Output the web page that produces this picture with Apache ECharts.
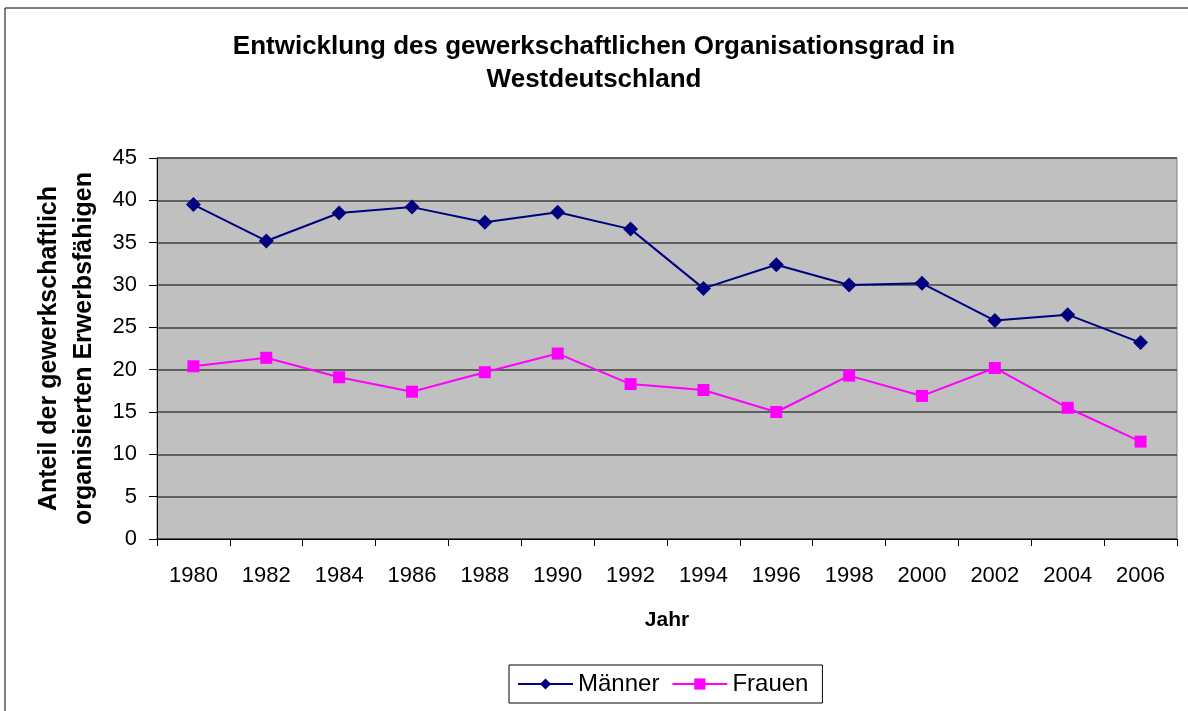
<!DOCTYPE html>
<html>
<head>
<meta charset="utf-8">
<script src="https://cdn.jsdelivr.net/npm/echarts@6/dist/echarts.min.js"></script>
<style>
  html, body { margin: 0; padding: 0; background: #fff; }
  #chart { width: 1188px; height: 711px; }
</style>
</head>
<body>
<div id="chart"></div>
<script>
var chart = echarts.init(document.getElementById("chart"));

// Daten
var jahre = ["1980", "1982", "1984", "1986", "1988", "1990", "1992", "1994", "1996", "1998", "2000", "2002", "2004", "2006"];
var maenner = [39.5, 35.2, 38.5, 39.2, 37.4, 38.6, 36.6, 29.6, 32.4, 30.0, 30.2, 25.8, 26.5, 23.2];
var frauen = [20.4, 21.4, 19.1, 17.4, 19.7, 21.9, 18.3, 17.6, 15.0, 19.3, 16.9, 20.2, 15.5, 11.5];

var font = "Liberation Sans, Arial, sans-serif";

var option = {
    backgroundColor: "#fff",
    textStyle: { fontFamily: font },
    graphic: [
        {
            type: "rect",
            shape: { x: 5, y: 8, width: 1200, height: 720 },
            style: { fill: "none", stroke: "#000", lineWidth: 1 },
            silent: true
        }
    ],
    title: {
        text: "Entwicklung des gewerkschaftlichen Organisationsgrad in\nWestdeutschland",
        left: "center",
        top: 25,
        textStyle: {
            fontFamily: font,
            fontSize: 26,
            fontWeight: "bold",
            color: "#000",
            lineHeight: 33
        }
    },
    legend: {
        data: ["Männer", "Frauen"],
        left: 509,
        top: 665,
        itemWidth: 55,
        itemHeight: 14,
        itemGap: 12,
        padding: [7, 14, 7, 8],
        borderColor: "#000",
        borderWidth: 1,
        textStyle: { fontFamily: font, fontSize: 24, color: "#000" }
    },
    grid: {
        left: 157,
        top: 158,
        right: 11,
        bottom: 172,
        show: true,
        backgroundColor: "#c0c0c0",
        borderColor: "#808080",
        borderWidth: 1
    },
    xAxis: {
        type: "category",
        data: jahre,
        name: "Jahr",
        nameLocation: "middle",
        nameGap: 71,
        nameTextStyle: { fontFamily: font, fontSize: 21, fontWeight: "bold", color: "#000" },
        axisLine: { lineStyle: { color: "#000", width: 1 } },
        axisTick: { show: true, length: 7, lineStyle: { color: "#000" } },
        axisLabel: { color: "#000", fontSize: 22, margin: 26, interval: 0 }
    },
    yAxis: {
        type: "value",
        min: 0,
        max: 45,
        interval: 5,
        name: "Anteil der gewerkschaftlich\norganisierten Erwerbsfähigen",
        nameLocation: "middle",
        nameGap: 55,
        nameTextStyle: { fontFamily: font, fontSize: 25, fontWeight: "bold", color: "#000", lineHeight: 35 },
        axisLine: { show: true, lineStyle: { color: "#000", width: 1 } },
        axisTick: { show: true, length: 8, lineStyle: { color: "#000" } },
        axisLabel: { color: "#000", fontSize: 22, margin: 20 },
        splitLine: { lineStyle: { color: "#404040", width: 1.5 } }
    },
    series: [
        {
            name: "Männer",
            type: "line",
            data: maenner,
            symbol: "diamond",
            symbolSize: 15,
            itemStyle: { color: "#000080" },
            lineStyle: { color: "#000080", width: 2 }
        },
        {
            name: "Frauen",
            type: "line",
            data: frauen,
            symbol: "rect",
            symbolSize: 12,
            itemStyle: { color: "#ff00ff" },
            lineStyle: { color: "#ff00ff", width: 2 }
        }
    ],
    animation: false
};

chart.setOption(option);
</script>
</body>
</html>
